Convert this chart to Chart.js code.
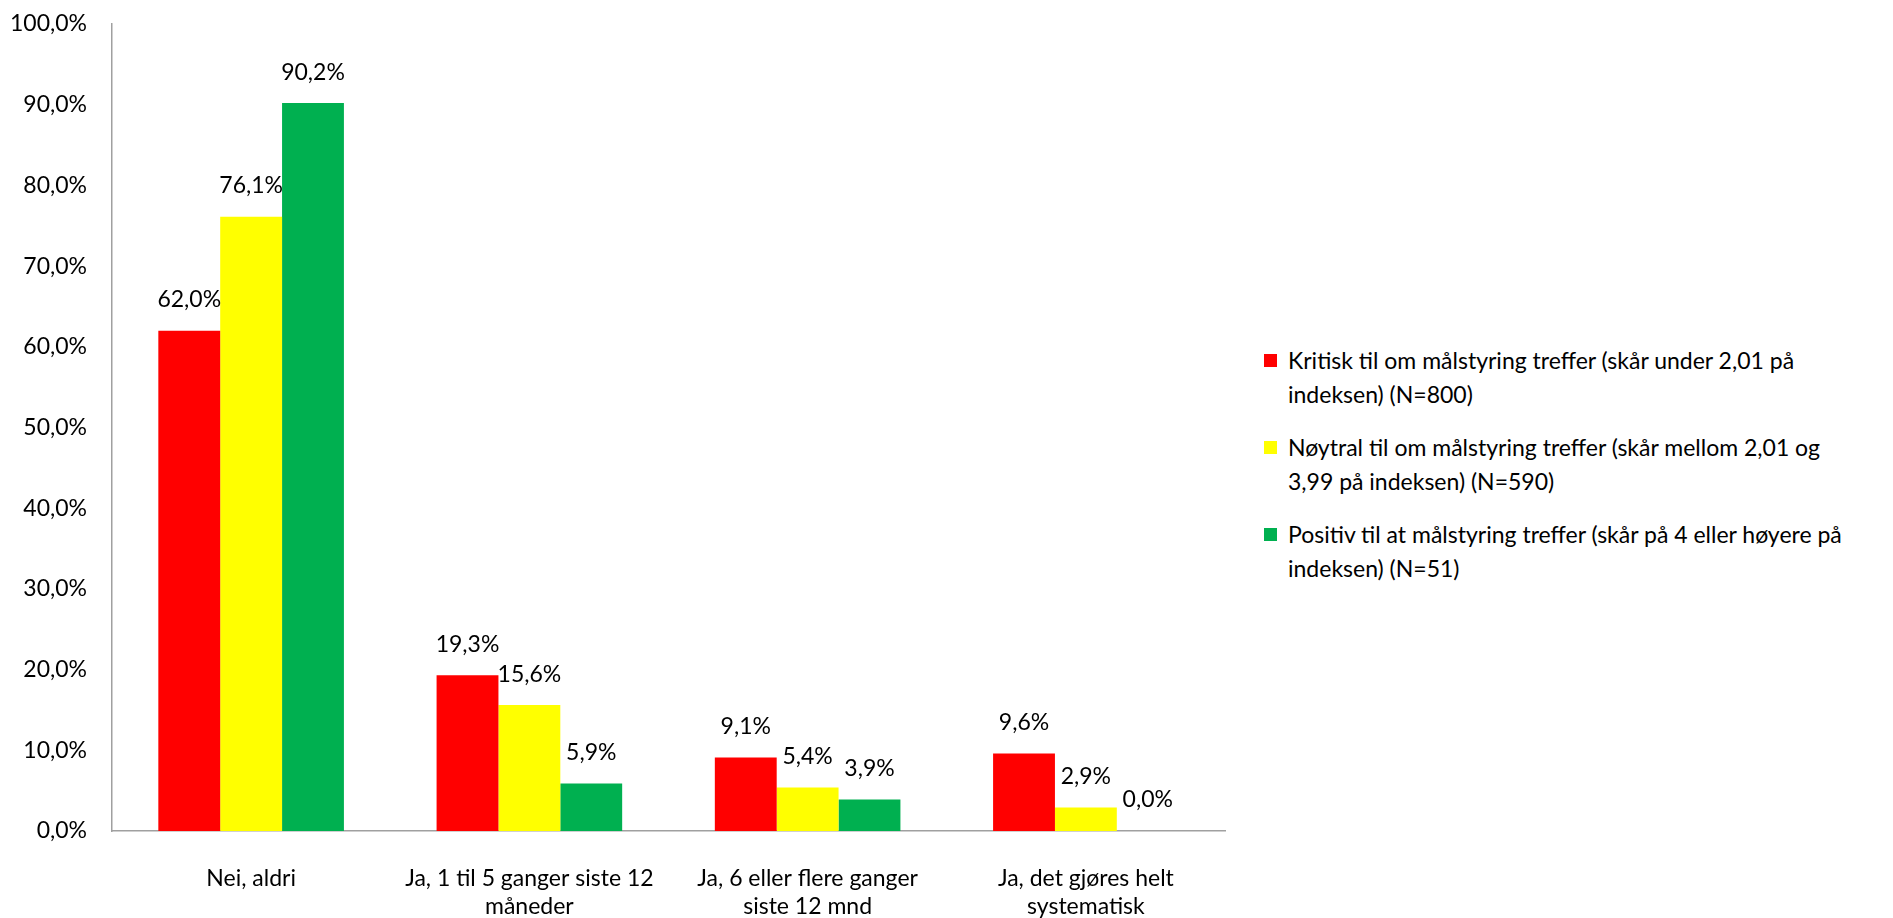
<!DOCTYPE html>
<html lang="no">
<head>
<meta charset="utf-8">
<title>Målstyring</title>
<script src="https://cdn.jsdelivr.net/npm/chart.js@4.4.0/dist/chart.umd.min.js"></script>
<style>
  html, body { margin: 0; padding: 0; background: #fff; }
  body { width: 1893px; height: 918px; position: relative; overflow: hidden; font-family: Lato, "Open Sans", sans-serif; }
  #wrap { position: absolute; left: 0; top: 0; width: 1240px; height: 918px; }
  #legend { position: absolute; left: 1260px; top: 343px; font-size: 23px; line-height: 34px; color: #000; }
  .item { position: relative; padding-left: 28px; margin-bottom: 19px; }
  .box { position: absolute; left: 4px; top: 11px; width: 13px; height: 13px; }
</style>
</head>
<body>
<div id="wrap"><canvas id="graf" width="1240" height="918"></canvas></div>
<div id="legend"></div>
<script>
// Kategorier (x-akse), to linjer der det trengs
const kategorier = [
    ['Nei, aldri'],
    ['Ja, 1 til 5 ganger siste 12', 'måneder'],
    ['Ja, 6 eller flere ganger', 'siste 12 mnd'],
    ['Ja, det gjøres helt', 'systematisk']
];

// Serier (prosent)
const kritisk = [62.0, 19.3, 9.1, 9.6];
const noytral = [76.1, 15.6, 5.4, 2.9];
const positiv = [90.2, 5.9, 3.9, 0.0];

// Legend-tekst, brutt i linjer som i originalen
const navnKritisk = ['Kritisk til om målstyring treffer (skår under 2,01 på', 'indeksen) (N=800)'];
const navnNoytral = ['Nøytral til om målstyring treffer (skår mellom 2,01 og', '3,99 på indeksen) (N=590)'];
const navnPositiv = ['Positiv til at målstyring treffer (skår på 4 eller høyere på', 'indeksen) (N=51)'];

// Y-akse
const yMin = 0, yMax = 100, ySteg = 10;

const farger = ['#ff0000', '#ffff00', '#00b050'];
const fontFam = 'Lato, "Open Sans", sans-serif';

const prosent = v => Number(v).toFixed(1).replace('.', ',') + '%';

// Verdietiketter over søylene
const etiketter = {
    id: 'etiketter',
    afterDatasetsDraw(chart) {
        const ctx = chart.ctx;
        ctx.save();
        ctx.font = '23px ' + fontFam;
        ctx.fillStyle = '#000';
        ctx.textAlign = 'center';
        ctx.textBaseline = 'middle';
        chart.data.datasets.forEach((ds, i) => {
            const meta = chart.getDatasetMeta(i);
            meta.data.forEach((bar, j) => {
                ctx.fillText(prosent(ds.data[j]), bar.x, bar.y - 31);
            });
        });
        ctx.restore();
    }
};

const serier = [
    { navn: navnKritisk, data: kritisk },
    { navn: navnNoytral, data: noytral },
    { navn: navnPositiv, data: positiv }
];

const ctxGraf = document.getElementById('graf').getContext('2d');
window.grafObj = new Chart(ctxGraf, {
    type: 'bar',
    data: {
        labels: kategorier,
        datasets: serier.map((s, i) => ({
            label: s.navn.join(' '),
            data: s.data,
            backgroundColor: farger[i],
            borderWidth: 0,
            categoryPercentage: 0.667,
            barPercentage: 1.0
        }))
    },
    options: {
        responsive: false,
        animation: false,
        devicePixelRatio: 1,
        layout: { padding: { top: 24, right: 15, bottom: 0, left: 0 } },
        plugins: { legend: { display: false }, tooltip: { enabled: false } },
        scales: {
            x: {
                grid: { display: false, drawTicks: false },
                border: { display: true, color: '#a0a0a0', width: 1.5 },
                ticks: { color: '#000', font: { family: fontFam, size: 23 }, padding: 34, maxRotation: 0, autoSkip: false },
                afterFit(scale) { scale.height = 87; }
            },
            y: {
                min: yMin, max: yMax,
                grid: { display: false, drawTicks: false },
                border: { display: true, color: '#a0a0a0', width: 1.5 },
                ticks: { stepSize: ySteg, color: '#000', font: { family: fontFam, size: 23 }, padding: 25, callback: v => prosent(v) },
                afterFit(scale) {
                    scale.width = 112;
                    // ikke la tick-padding skyve plottet ned
                    scale.paddingTop = 0;
                    scale.paddingBottom = 0;
                }
            }
        }
    },
    plugins: [etiketter]
});

// HTML-legend til høyre
const legend = document.getElementById('legend');
serier.forEach((s, i) => {
    const div = document.createElement('div');
    div.className = 'item';
    div.innerHTML = '<span class="box" style="background:' + farger[i] + '"></span>' + s.navn.join('<br>');
    legend.appendChild(div);
});
</script>
</body>
</html>
